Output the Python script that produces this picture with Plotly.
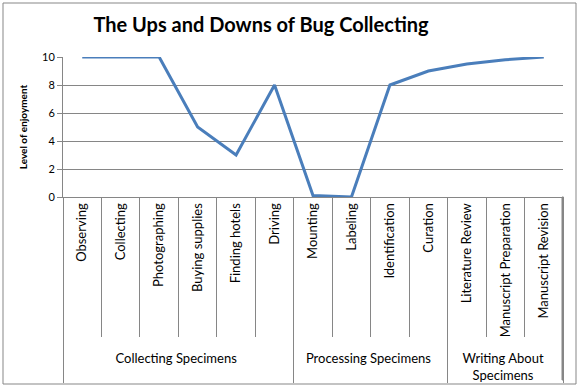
import plotly.graph_objects as go

groups = ["Collecting Specimens"] * 6 + ["Processing Specimens"] * 4 + ["Writing About<br>Specimens"] * 3
tasks = ["Observing", "Collecting", "Photographing", "Buying supplies", "Finding hotels", "Driving",
         "Mounting", "Labeling", "Identification", "Curation",
         "Literature Review", "Manuscript Preparation", "Manuscript Revision"]
enjoyment = [10, 10, 10, 5, 3, 8, 0.1, 0, 8, 9, 9.5, 9.8, 10]

W, H = 579, 387
ml, mr, mt, mb = 63, 16, 57, 190
pw, ph = W - ml - mr, H - mt - mb

fig = go.Figure()
fig.add_trace(go.Scatter(
    x=[groups, tasks], y=enjoyment, mode="lines",
    line=dict(color="#4A7EBB", width=3), showlegend=False,
))

font = "Lato, 'Open Sans', sans-serif"
fig.update_layout(
    width=W, height=H,
    margin=dict(l=ml, r=mr, t=mt, b=mb, autoexpand=False),
    paper_bgcolor="white", plot_bgcolor="white",
    title=dict(text="<b>The Ups and Downs of Bug Collecting</b>", x=(261 - ml) / pw, xref="paper",
               xanchor="center",
               y=1 - 25 / H, yanchor="middle", font=dict(family=font, size=20, color="black")),
    font=dict(family=font, size=12, color="black"),
)
fig.update_xaxes(
    type="multicategory", tickangle=-90, showgrid=False, range=[-0.5, len(tasks) - 0.5],
    showline=True, linecolor="#868686", linewidth=1, automargin=False,
    ticks="outside", tickson="boundaries", ticklen=139, tickcolor="#868686",
    showdividers=True, dividercolor="#868686", dividerwidth=1,
    tickfont=dict(family=font, size=13, color="black"),
    mirror=False,
)
fig.update_yaxes(
    range=[0, 10], dtick=2, showgrid=True, gridcolor="#868686", gridwidth=1,
    showline=True, linecolor="#868686", linewidth=1, automargin=False,
    ticks="outside", ticklen=5, tickcolor="#868686",
    zeroline=False,
    title=dict(text="<b>Level of enjoyment</b>", font=dict(family=font, size=10, color="black"), standoff=12),
    tickfont=dict(family=font, size=11, color="black"),
)
# outer chart border
fig.add_shape(type="rect", xref="paper", yref="paper",
              x0=(3 - ml) / pw, x1=(W - 3 - ml) / pw,
              y0=-(H - 3 - mt - ph) / ph, y1=(ph + mt - 3) / ph,
              line=dict(color="#878787", width=1), layer="below")
# closing divider on the right end of the category axis
fig.add_shape(type="rect", xref="paper", yref="paper",
              x0=1 - 1.0 / pw, x1=1 + 0.5 / pw, y0=0, y1=-(380 - mt - ph) / ph,
              line=dict(color="#868686", width=1), fillcolor="#868686", layer="below")

fig.write_html("out.html")
